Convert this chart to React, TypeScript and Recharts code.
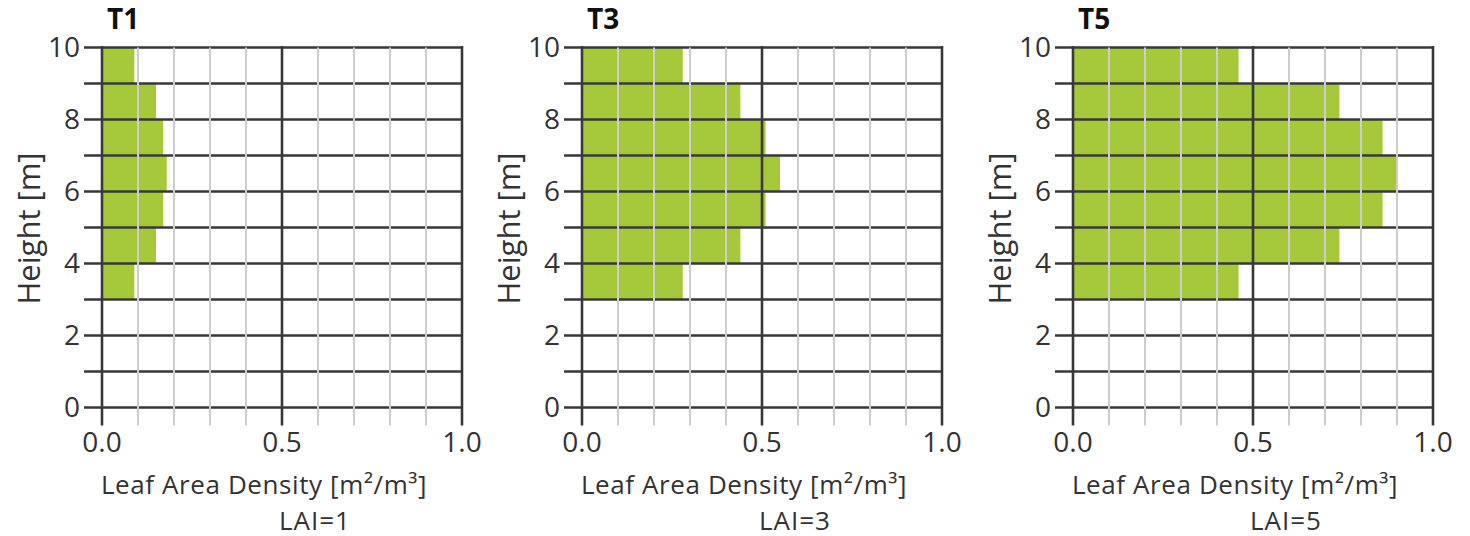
import { BarChart, Bar, XAxis, YAxis, ReferenceLine } from "recharts";

// canopy layers, mid height of each 1 m slice [m]
const layerHeights = [3.5, 4.5, 5.5, 6.5, 7.5, 8.5, 9.5];

// leaf area density per layer [m2/m3]
const ladT1 = [0.09, 0.15, 0.17, 0.18, 0.17, 0.15, 0.09];
const ladT3 = [0.28, 0.44, 0.51, 0.55, 0.51, 0.44, 0.28];
const ladT5 = [0.46, 0.74, 0.86, 0.9, 0.86, 0.74, 0.46];

const panelTitles = ["T1", "T3", "T5"];
const laiLabels = ["LAI=1", "LAI=3", "LAI=5"];

const heightTicks = [0, 2, 4, 6, 8, 10];
const heightLines = [0, 1, 2, 3, 4, 5, 6, 7, 8, 9, 10];
const ladTicks = [0, 0.5, 1];
const ladMinorLines = [0.1, 0.2, 0.3, 0.4, 0.6, 0.7, 0.8, 0.9];
const ladMajorLines = [0, 0.5, 1];

const FONT = "'Open Sans', sans-serif";
const GREEN = "#a5c93a";
const DARK = "#383838";
const LIGHT = "#cdcdcd";

interface PanelProps {
  values: number[];
  title: string;
  lai: string;
}

function Panel({ values, title, lai }: PanelProps) {
  const data = layerHeights.map((h, i) => ({ height: h, lad: values[i] }));

  const xTitle = (props: any) => {
    const vb = props.viewBox;
    return (
      <g>
        <text
          x={vb.x + 162}
          y={vb.y + 86}
          textAnchor="middle"
          fontSize={26}
          letterSpacing={0.6}
          fill="#333"
          fontFamily={FONT}
        >
          Leaf Area Density [m²/m³]
        </text>
        <text
          x={vb.x + 213}
          y={vb.y + 122}
          textAnchor="middle"
          fontSize={26}
          letterSpacing={1}
          fill="#333"
          fontFamily={FONT}
        >
          {lai}
        </text>
      </g>
    );
  };

  const yTitle = (props: any) => {
    const vb = props.viewBox;
    const cy = vb.y + vb.height / 2 + 1;
    return (
      <g>
        <text
          x={40}
          y={cy}
          transform={`rotate(-90, 40, ${cy})`}
          textAnchor="middle"
          fontSize={31}
          fill="#333"
          fontFamily={FONT}
        >
          Height [m]
        </text>
        <text x={vb.x + vb.width + 5} y={29} fontSize={28} fontWeight="bold" fill="#111" fontFamily={FONT}>
          {title}
        </text>
      </g>
    );
  };

  return (
    <BarChart
      width={500}
      height={536}
      layout="vertical"
      data={data}
      barCategoryGap={0}
      margin={{ top: 47.5, right: 38, bottom: 68.5, left: 42 }}
    >
      <XAxis
        type="number"
        domain={[0, 1]}
        ticks={ladTicks}
        tickFormatter={(v: number) => v.toFixed(1)}
        axisLine={false}
        tickLine={false}
        tickSize={18}
        tickMargin={7}
        height={60}
        tick={{ fontSize: 28, fill: "#333", fontFamily: FONT }}
        label={xTitle}
      />
      <YAxis
        type="number"
        dataKey="height"
        domain={[0, 10]}
        reversed
        ticks={heightTicks}
        axisLine={false}
        tickLine={false}
        tickSize={18}
        tickMargin={4}
        width={60}
        tick={{ fontSize: 28, fill: "#333", fontFamily: FONT }}
        label={yTitle}
      />
      <Bar dataKey="lad" fill={GREEN} isAnimationActive={false} />
      {heightLines.map((h) => (
        <ReferenceLine
          key={"h" + h}
          segment={[
            { x: -0.05, y: h },
            { x: 1, y: h },
          ]}
          ifOverflow="visible"
          stroke={DARK}
          strokeWidth={2.6}
        />
      ))}
      {ladMinorLines.map((v) => (
        <ReferenceLine
          key={"m" + v}
          segment={[
            { x: v, y: -0.5 },
            { x: v, y: 10 },
          ]}
          ifOverflow="visible"
          stroke={LIGHT}
          strokeWidth={2}
        />
      ))}
      {ladMajorLines.map((v) => (
        <ReferenceLine
          key={"M" + v}
          segment={[
            { x: v, y: -0.5 },
            { x: v, y: 10.04 },
          ]}
          ifOverflow="visible"
          stroke={DARK}
          strokeWidth={2.6}
        />
      ))}
    </BarChart>
  );
}

const panelValues = [ladT1, ladT3, ladT5];
const panelLeft = [0, 480, 970.5];

export default function App() {
  return (
    <div
      style={{
        position: "absolute",
        left: 0,
        top: 0,
        width: 1452,
        height: 536,
        overflow: "hidden",
        background: "#fff",
        fontFamily: FONT,
      }}
    >
      {panelValues.map((vals, i) => (
        <div key={i} style={{ position: "absolute", left: panelLeft[i], top: 0 }}>
          <Panel values={vals} title={panelTitles[i]} lai={laiLabels[i]} />
        </div>
      ))}
    </div>
  );
}
